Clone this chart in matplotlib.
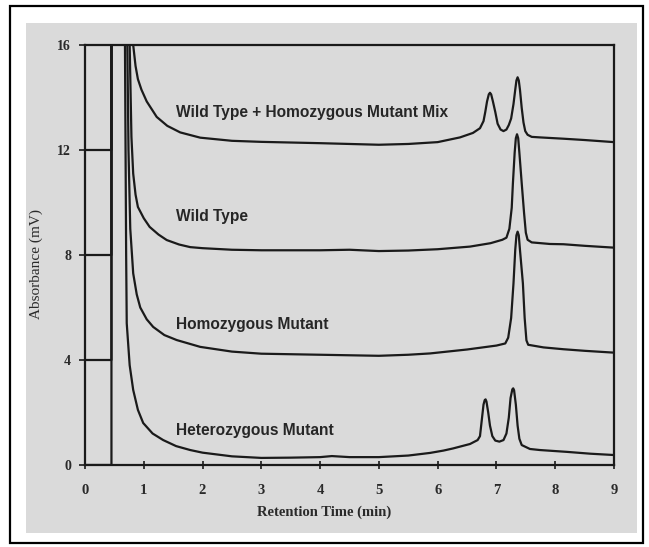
import matplotlib
matplotlib.use("Agg")
import matplotlib.pyplot as plt
from matplotlib.patches import Rectangle

# Retention time (min) / absorbance (mV) samples for each stacked chromatogram
mix_t = [0.0, 0.45, 0.45, 0.78, 0.80, 0.82, 0.86, 0.90, 0.96, 1.05, 1.22, 1.40, 1.62, 1.96,
         2.5, 3.0, 4.0, 5.0, 5.5, 6.0, 6.38, 6.60, 6.72, 6.78, 6.81, 6.84, 6.87, 6.89, 6.91,
         6.94, 6.98, 7.02, 7.07, 7.12, 7.17, 7.21, 7.25, 7.29, 7.32, 7.34, 7.36, 7.38, 7.40,
         7.43, 7.46, 7.49, 7.53, 7.60, 7.74, 8.14, 8.5, 9.0]
mix_y = [12.0, 12.0, 30.0, 30.0, 18.0, 16.0, 15.2, 14.7, 14.3, 13.85, 13.26, 12.92, 12.67, 12.47,
         12.35, 12.31, 12.26, 12.20, 12.23, 12.30, 12.48, 12.65, 12.83, 13.10, 13.45, 13.85, 14.12,
         14.18, 14.12, 13.85, 13.45, 13.00, 12.78, 12.72, 12.78, 12.95, 13.20, 13.75, 14.30,
         14.65, 14.77, 14.65, 14.30, 13.60, 13.05, 12.72, 12.58, 12.50, 12.48, 12.43, 12.38, 12.30]

wt_t = [0.0, 0.45, 0.45, 0.74, 0.76, 0.79, 0.82, 0.86, 0.90, 1.00, 1.10, 1.25, 1.39, 1.60, 1.79,
        2.0, 2.5, 3.0, 4.0, 4.5, 5.0, 5.5, 6.0, 6.55, 6.90, 7.10, 7.17, 7.22, 7.26, 7.28, 7.31,
        7.33, 7.35, 7.37, 7.39, 7.43, 7.47, 7.50, 7.53, 7.60, 7.91, 8.14, 8.5, 9.0]
wt_y = [8.0, 8.0, 30.0, 30.0, 16.0, 12.5, 11.1, 10.3, 9.83, 9.40, 9.07, 8.78, 8.57, 8.40, 8.30,
        8.26, 8.20, 8.18, 8.18, 8.20, 8.15, 8.17, 8.22, 8.32, 8.45, 8.58, 8.66, 9.00, 9.80, 10.73,
        11.90, 12.45, 12.60, 12.45, 11.90, 10.73, 9.60, 8.85, 8.58, 8.48, 8.42, 8.41, 8.35, 8.28]

homo_t = [0.0, 0.45, 0.45, 0.70, 0.72, 0.74, 0.77, 0.82, 0.88, 0.94, 1.05, 1.16, 1.35, 1.56, 1.96,
          2.5, 3.0, 4.0, 5.0, 5.5, 5.87, 6.5, 7.0, 7.15, 7.20, 7.25, 7.29, 7.32, 7.34, 7.36, 7.38,
          7.40, 7.45, 7.48, 7.51, 7.54, 7.80, 8.14, 8.5, 9.0]
homo_y = [4.0, 4.0, 30.0, 30.0, 16.0, 12.0, 9.0, 7.3, 6.5, 6.0, 5.55, 5.26, 4.95, 4.76, 4.50,
          4.32, 4.24, 4.20, 4.16, 4.20, 4.25, 4.40, 4.55, 4.63, 4.85, 5.60, 6.92, 8.20, 8.75, 8.89,
          8.75, 8.20, 6.92, 5.60, 4.75, 4.58, 4.48, 4.41, 4.35, 4.28]

het_t = [0.0, 0.45, 0.45, 0.66, 0.68, 0.70, 0.71, 0.76, 0.82, 0.90, 0.99, 1.15, 1.33, 1.55, 1.79,
         2.0, 2.5, 3.0, 3.5, 4.0, 4.2, 4.5, 5.0, 5.5, 5.87, 6.1, 6.26, 6.55, 6.68, 6.72, 6.75,
         6.78, 6.80, 6.815, 6.83, 6.86, 6.89, 6.93, 6.98, 7.05, 7.12, 7.17, 7.21, 7.24, 7.27,
         7.285, 7.30, 7.33, 7.36, 7.39, 7.43, 7.57, 7.74, 8.2, 8.6, 9.0]
het_y = [0.0, 0.0, 30.0, 30.0, 16.0, 8.0, 5.4, 3.8, 2.86, 2.10, 1.60, 1.20, 0.95, 0.72, 0.57,
         0.47, 0.33, 0.27, 0.28, 0.30, 0.34, 0.30, 0.30, 0.36, 0.46, 0.55, 0.63, 0.80, 0.95, 1.10,
         1.70, 2.30, 2.47, 2.50, 2.42, 2.00, 1.50, 1.10, 0.93, 0.89, 0.95, 1.20, 1.80, 2.55, 2.88,
         2.92, 2.85, 2.30, 1.50, 1.00, 0.76, 0.61, 0.57, 0.50, 0.43, 0.38]

trace_labels = ["Wild Type + Homozygous Mutant Mix", "Wild Type",
                "Homozygous Mutant", "Heterozygous Mutant"]
label_y = [13.43, 9.47, 5.35, 1.30]
label_x = 1.55

x_ticks = [0, 1, 2, 3, 4, 5, 6, 7, 8, 9]
y_ticks = [0, 4, 8, 12, 16]

W, H = 649, 547
fig = plt.figure(figsize=(W / 100, H / 100), dpi=100)
fig.patch.set_facecolor("white")

# grey panel behind the plot and the thin black frame around everything
fig.add_artist(Rectangle((26 / W, 1 - 533 / H), (637 - 26) / W, (533 - 23) / H,
                         transform=fig.transFigure, facecolor="#dadada",
                         edgecolor="none", zorder=-10))
fig.add_artist(Rectangle((10 / W, 1 - 543 / H), (643 - 10) / W, (543 - 6) / H,
                         transform=fig.transFigure, facecolor="none",
                         edgecolor="black", linewidth=1.6, zorder=-5))

ax = fig.add_axes([85 / W, 1 - 465 / H, (614 - 85) / W, (465 - 45) / H])
ax.set_zorder(2)
ax.set_facecolor("none")

ink = "#1a1a1a"
for t, y in [(mix_t, mix_y), (wt_t, wt_y), (homo_t, homo_y), (het_t, het_y)]:
    ax.plot(t, y, color=ink, lw=1.6, solid_joinstyle="round")

text_font = ["Liberation Sans", "DejaVu Sans"]
for lab, ly in zip(trace_labels, label_y):
    ax.text(label_x, ly, lab, ha="left", va="center", fontsize=11.2,
            family=text_font, fontweight="bold", color="#262626")

ax.set_xlim(0, 9)
ax.set_ylim(0, 16)
ax.set_xticks(x_ticks)
ax.set_yticks(y_ticks)
serif = ["Liberation Serif", "DejaVu Serif"]
ax.set_xticklabels([str(v) for v in x_ticks], family=serif, fontsize=10.5,
                   fontweight="bold", color="#2a2a2a")
ax.set_yticklabels([str(v) for v in y_ticks], family=serif, fontsize=10,
                   fontweight="bold", color="#2a2a2a")
ax.tick_params(axis="x", direction="inout", length=6, width=1.2, pad=11, color=ink)
ax.tick_params(axis="y", direction="out", length=4, width=1.2, pad=6, color=ink)

for side in ["left", "right", "top", "bottom"]:
    ax.spines[side].set_linewidth(1.6)
    ax.spines[side].set_color(ink)

fig.text(324 / W, 1 - 512 / H, "Retention Time (min)", ha="center", va="center",
         family=serif, fontsize=10.5, fontweight="bold", color="#2a2a2a")
fig.text(36 / W, 1 - 264 / H, "Absorbance (mV)", ha="center", va="center",
         rotation=90, family=serif, fontsize=11, color="#2a2a2a")

fig.savefig("out.png", dpi=100)
